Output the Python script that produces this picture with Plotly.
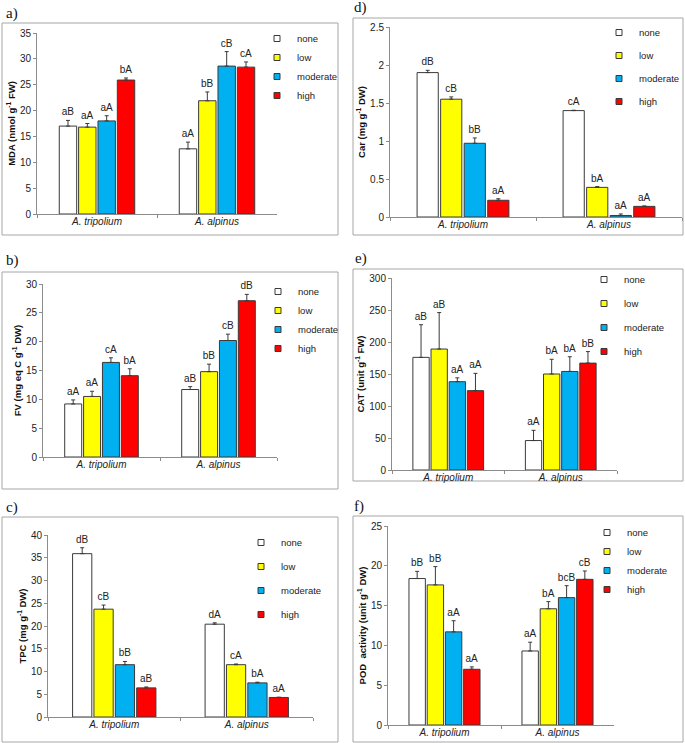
import plotly.graph_objects as go

# categories / series
species = ['A. tripolium', 'A. alpinus']
levels = ['none', 'low', 'moderate', 'high']
level_colors = ['#FFFFFF', '#FFFF00', '#00B0F0', '#FF0000']

# rows: species, cols: levels
mda_vals = [[17.0, 16.8, 18.0, 25.9], [12.6, 21.9, 28.6, 28.4]]
mda_err = [[1.1, 0.7, 1.0, 0.4], [1.3, 1.7, 2.8, 1.0]]
mda_lab = [['aB', 'aA', 'aA', 'bA'], ['aA', 'bB', 'cB', 'cA']]

fv_vals = [[9.2, 10.5, 16.4, 14.1], [11.7, 14.8, 20.2, 27.1]]
fv_err = [[0.7, 0.9, 0.8, 1.2], [0.5, 1.3, 1.1, 1.1]]
fv_lab = [['aA', 'aA', 'cA', 'bA'], ['aB', 'bB', 'cB', 'dB']]

tpc_vals = [[35.9, 23.7, 11.5, 6.4], [20.4, 11.5, 7.5, 4.3]]
tpc_err = [[1.3, 0.9, 0.7, 0.2], [0.3, 0.15, 0.15, 0.05]]
tpc_lab = [['dB', 'cB', 'bB', 'aB'], ['dA', 'cA', 'bA', 'aA']]

car_vals = [[1.9, 1.55, 0.97, 0.22], [1.4, 0.39, 0.02, 0.14]]
car_err = [[0.03, 0.03, 0.07, 0.02], [0.005, 0.01, 0.02, 0.005]]
car_lab = [['dB', 'cB', 'bB', 'aA'], ['cA', 'bA', 'aA', 'aA']]

cat_vals = [[176, 189, 138, 124], [46, 150, 154, 167]]
cat_err = [[51, 57, 6, 27], [16, 23, 23, 18]]
cat_lab = [['aB', 'aB', 'aA', 'aA'], ['aA', 'bA', 'bA', 'bB']]

pod_vals = [[18.4, 17.6, 11.7, 7.0], [9.3, 14.6, 16.0, 18.3]]
pod_err = [[0.9, 2.3, 1.4, 0.3], [1.1, 0.9, 1.5, 1.05]]
pod_lab = [['bB', 'bB', 'aA', 'aA'], ['aA', 'bA', 'bcB', 'cB']]

W, H = 685, 743
FONT = 'Liberation Sans, Arial, sans-serif'


def px(x):
    return x / W


def py(y):
    return 1 - y / H


# panel layout in pixels: plot box, frame box, label pos, legend (x, top, gap)
panels = [
    dict(tag='a)', vals=mda_vals, err=mda_err, lab=mda_lab, rng=35, dtick=5,
         title='MDA (nmol g<sup>-1</sup> FW)',
         plot=(37, 277, 33, 214), frame=(2, 338, 23, 235), label=(12, 14),
         legend=(257, 24, 0)),
    dict(tag='b)', vals=fv_vals, err=fv_err, lab=fv_lab, rng=30, dtick=5,
         title='FV (mg eq C g<sup>-1</sup> DW)',
         plot=(43, 277, 284, 457), frame=(2, 338, 272, 489), label=(12, 260),
         legend=(258, 277, 0)),
    dict(tag='c)', vals=tpc_vals, err=tpc_err, lab=tpc_lab, rng=40, dtick=5,
         title='TPC (mg g<sup>-1</sup> DW)',
         plot=(48, 313, 535, 717), frame=(2, 338, 517, 742), label=(12, 507),
         legend=(241, 528, 5)),
    dict(tag='d)', vals=car_vals, err=car_err, lab=car_lab, rng=2.5, dtick=0.5,
         title='Car (mg g<sup>-1</sup> DW)',
         plot=(390, 682, 27, 217), frame=(353, 683, 18, 235), label=(361, 7),
         legend=(599, 18, 4)),
    dict(tag='e)', vals=cat_vals, err=cat_err, lab=cat_lab, rng=300, dtick=50,
         title='CAT (unit g<sup>-1</sup> FW)',
         plot=(392, 617, 278, 470), frame=(353, 683, 269, 481), label=(361, 258),
         legend=(584, 265, 5)),
    dict(tag='f)', vals=pod_vals, err=pod_err, lab=pod_lab, rng=25, dtick=5,
         title='POD  activity (unit g<sup>-1</sup> DW)',
         plot=(388, 614, 526, 725), frame=(353, 683, 516, 742), label=(359, 506),
         legend=(587, 518, 0)),
]

fig = go.Figure()
shapes = []
annotations = []

for i, p in enumerate(panels, start=1):
    xa = 'x' if i == 1 else 'x%d' % i
    ya = 'y' if i == 1 else 'y%d' % i
    leg = 'legend' if i == 1 else 'legend%d' % i

    for j, lvl in enumerate(levels):
        ys = [p['vals'][k][j] for k in range(len(species))]
        es = [p['err'][k][j] for k in range(len(species))]
        tops = [ys[k] + es[k] for k in range(len(species))]
        labs = [p['lab'][k][j] for k in range(len(species))]
        # bar with one-sided error bar
        fig.add_trace(go.Bar(
            x=species, y=ys, xaxis=xa, yaxis=ya, offsetgroup=lvl,
            marker=dict(color=level_colors[j], line=dict(color='#3a3a3a', width=1)),
            error_y=dict(type='data', symmetric=False, array=es,
                         arrayminus=[0] * len(es), color='#3a3a3a',
                         thickness=1, width=2),
            showlegend=False, hoverinfo='skip'))
        # invisible bar carrying the letters above the error bar
        fig.add_trace(go.Bar(
            x=species, y=tops, xaxis=xa, yaxis=ya, offsetgroup=lvl,
            marker=dict(color='rgba(0,0,0,0)', line=dict(width=0)),
            text=labs, textposition='outside', constraintext='none',
            textfont=dict(size=10, color='#222222', family=FONT),
            cliponaxis=False, showlegend=False, hoverinfo='skip'))
        # legend entry
        fig.add_trace(go.Scatter(
            x=[None], y=[None], xaxis=xa, yaxis=ya, mode='markers', name=lvl,
            legend=leg, legendgroup='%s_%s' % (p['tag'], lvl),
            marker=dict(symbol='square', size=6, color=level_colors[j],
                        line=dict(color='#3a3a3a', width=1))))

    x0, x1, y0, y1 = p['plot']
    fig.layout['xaxis' if i == 1 else 'xaxis%d' % i] = dict(
        domain=[px(x0), px(x1)], anchor=ya, type='category',
        showline=True, linecolor='#8c8c8c', linewidth=1,
        ticks='outside', tickson='boundaries', ticklen=3, tickcolor='#8c8c8c',
        ticklabelstandoff=-2,
        tickfont=dict(size=10, color='#222222', family=FONT, style='italic'),
        showgrid=False, zeroline=False, automargin=False)
    fig.layout['yaxis' if i == 1 else 'yaxis%d' % i] = dict(
        domain=[py(y1), py(y0)], anchor=xa, range=[0, p['rng']], dtick=p['dtick'],
        showline=True, linecolor='#8c8c8c', linewidth=1,
        ticks='outside', ticklen=3, tickcolor='#8c8c8c',
        tickfont=dict(size=10, color='#222222', family=FONT),
        title=dict(text=p['title'], standoff=2,
                   font=dict(size=9.5, color='#111111', family=FONT, weight='bold')),
        showgrid=False, zeroline=False, automargin=False)

    lx, ltop, gap = p['legend']
    fig.layout[leg] = dict(
        x=px(lx), y=py(ltop), xanchor='left', yanchor='top',
        bgcolor='rgba(0,0,0,0)', borderwidth=0, tracegroupgap=gap,
        font=dict(size=9.5, color='#222222', family=FONT))

    fx0, fx1, fy0, fy1 = p['frame']
    shapes.append(dict(type='rect', xref='paper', yref='paper',
                       x0=px(fx0), x1=px(fx1), y0=py(fy1), y1=py(fy0),
                       line=dict(color='#a6a6a6', width=1),
                       fillcolor='rgba(0,0,0,0)', layer='below'))
    lbx, lby = p['label']
    annotations.append(dict(text=p['tag'], xref='paper', yref='paper',
                            x=px(lbx), y=py(lby), showarrow=False,
                            xanchor='center', yanchor='middle',
                            font=dict(size=15, color='#111111',
                                      family='Liberation Serif, Times New Roman, serif')))

fig.update_layout(
    width=W, height=H, margin=dict(l=0, r=0, t=0, b=0),
    paper_bgcolor='white', plot_bgcolor='white',
    barmode='group', bargap=0.355, bargroupgap=0.1,
    font=dict(family=FONT),
    shapes=shapes, annotations=annotations)

# drop the default page margin so the figure sits at the window origin
fig.write_html('out.html', config={'displayModeBar': False},
               post_script="document.body.style.margin='0';")
